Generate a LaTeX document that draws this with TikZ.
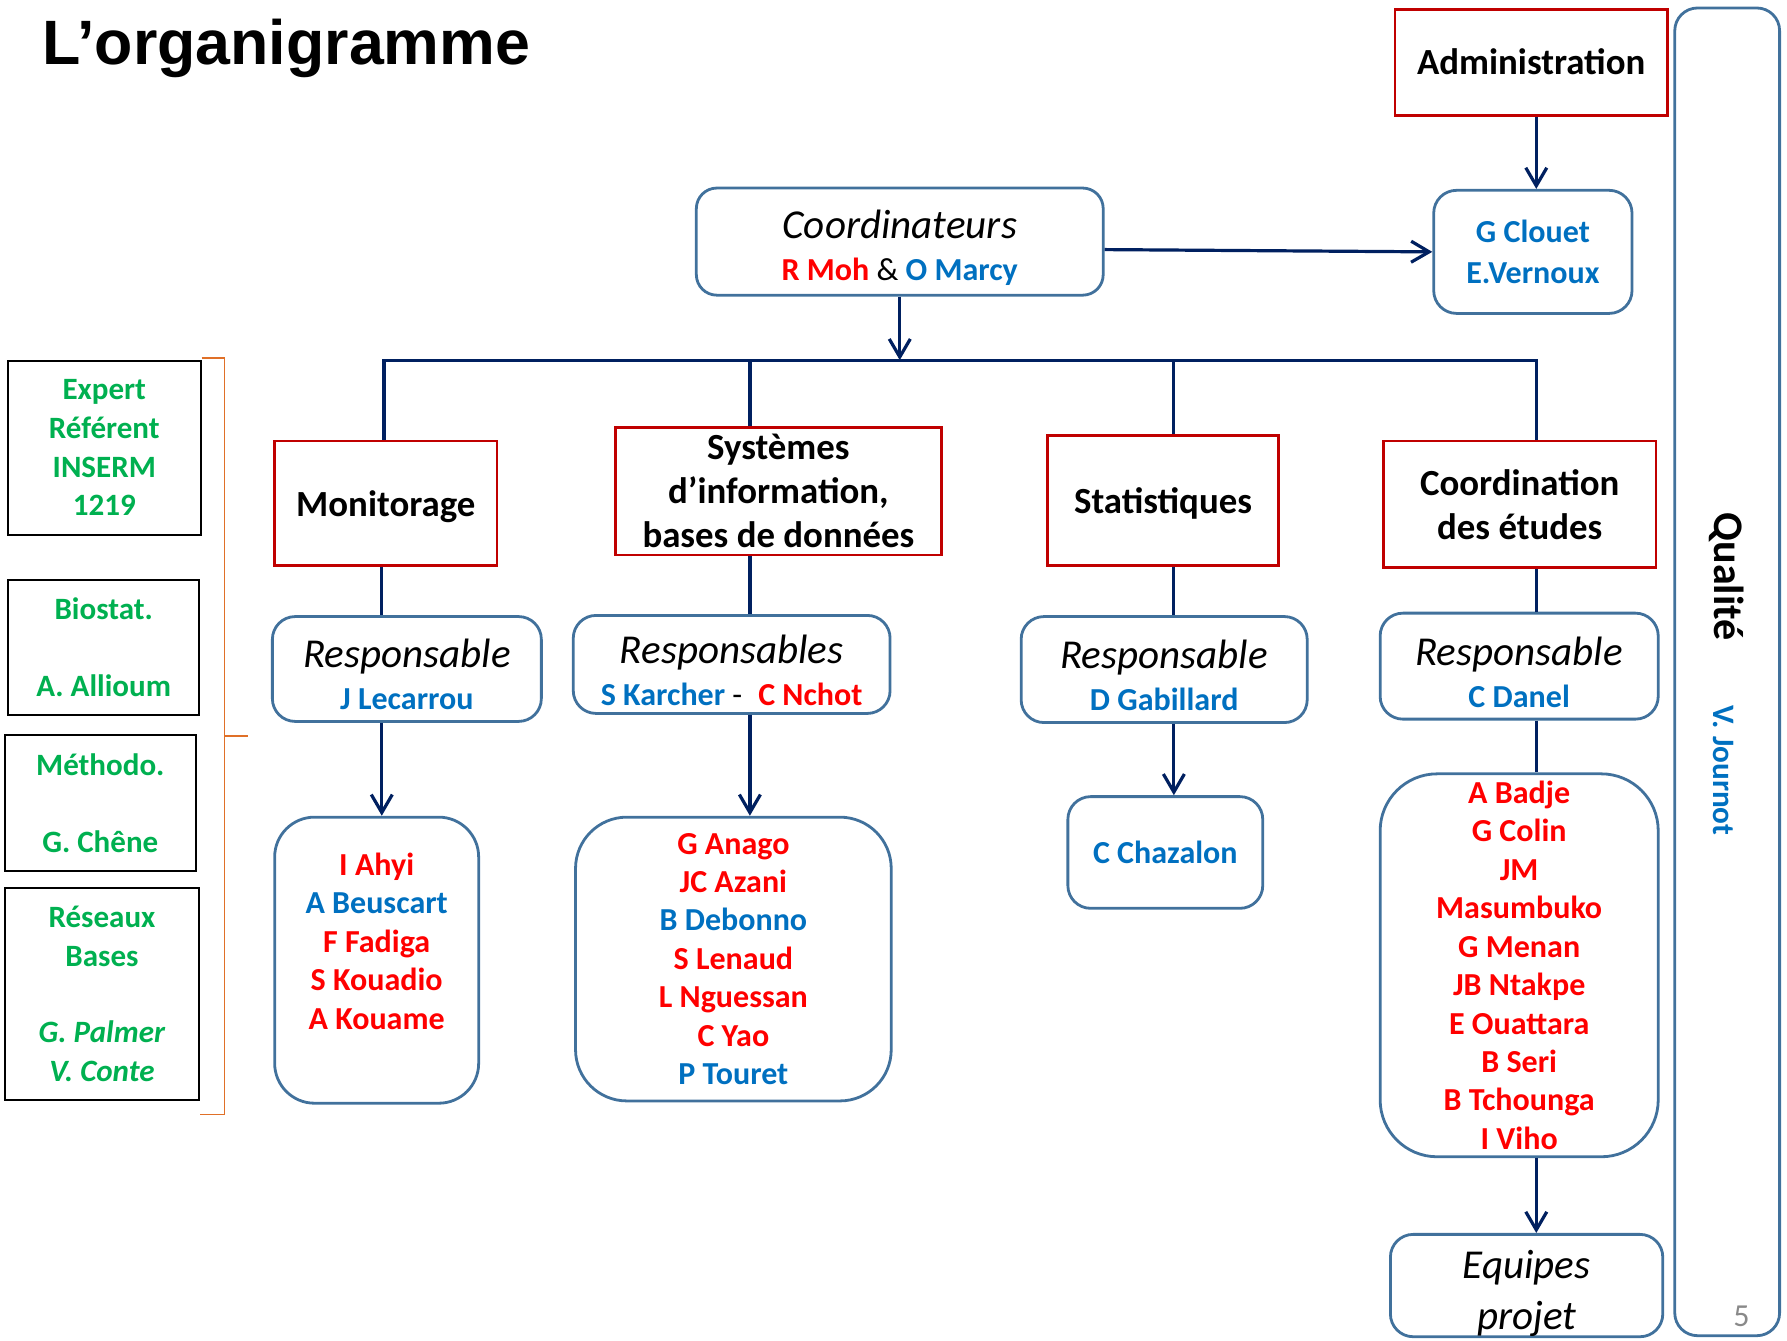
\documentclass[tikz,border=0pt]{standalone}
\usepackage{fontspec}
\setmainfont{Carlito}
\newfontfamily\titlefont{Liberation Sans}
\usetikzlibrary{arrows.meta}

\definecolor{navyline}{RGB}{0,32,96}
\definecolor{redframe}{RGB}{192,0,0}
\definecolor{blueframe}{RGB}{65,113,156}
\definecolor{nameblue}{RGB}{0,112,192}
\definecolor{namered}{RGB}{255,0,0}
\definecolor{namegreen}{RGB}{0,176,80}
\definecolor{bracketorange}{RGB}{224,112,40}
\definecolor{pagegray}{RGB}{137,137,137}

\newcommand{\nred}[1]{\textcolor{namered}{#1}}
\newcommand{\nblue}[1]{\textcolor{nameblue}{#1}}
\newcommand{\rolename}[1]{{\mdseries\itshape\fontsize{20.5}{21}\selectfont\rule{0pt}{20pt}#1}}

\begin{document}
\begin{tikzpicture}[x=0.02cm,y=-0.02cm]

\tikzset{%
  sz/.style 2 args = {minimum width=#1*0.02cm, minimum height=#2*0.02cm},
  unit/.style    = {draw=redframe, line width=1.4pt, inner sep=0pt, align=center,
                    font=\bfseries\fontsize{18.4}{22}\selectfont},
  person/.style  = {draw=blueframe, line width=1.4pt, rounded corners=0.4cm, inner sep=0pt,
                    align=center, font=\bfseries\fontsize{16}{21}\selectfont},
  team/.style    = {person, font=\bfseries\fontsize{16}{19.2}\selectfont},
  expert/.style  = {draw=black, line width=1pt, inner sep=0pt, align=center, text=namegreen,
                    font=\bfseries\fontsize{15.5}{19.3}\selectfont},
  link/.style    = {navyline, line width=1.6pt},
  arrow/.style   = {link, -{Straight Barb[length=9pt,width=10.5pt]}},
  bracket/.style = {bracketorange, line width=0.8pt},
}

\useasboundingbox (0,0) rectangle (1568,1176);

\coordinate (cmon)  at (335,0);  % Monitorage column
\coordinate (csys)  at (658,0);  % Systemes column
\coordinate (cstat) at (1030,0); % Statistiques column
\coordinate (cetu)  at (1348,0); % Coordination column
\coordinate (busL)  at (337,316);
\coordinate (busR)  at (1348,316);

% Title
\node[anchor=base west, inner sep=0pt, font=\titlefont\bfseries\fontsize{31.3}{36}\selectfont]
  (title) at (37,57) {L’organigramme};

% Administration and Qualite
\node[unit, sz={239}{93}] (admin) at (1343.5,54.5) {Administration};
\node[person, sz={92}{1165}] (qual) at (1515.5,589.5) {};
\node[rotate=-90, font=\bfseries\fontsize{21}{24}\selectfont] (qualite) at (1515,506) {Qualité};
\node[rotate=-90, text=nameblue, font=\bfseries\fontsize{15.6}{18}\selectfont]
  (journot) at (1512,676) {V. Journot};

% Coordination
\node[person, sz={357}{94}, rounded corners=0.36cm] (coord) at (789.5,212)
  {\rolename{Coordinateurs}\\ \nred{R Moh} {\mdseries\&} \nblue{O Marcy}};
\node[person, sz={174}{108}, text=nameblue, font=\bfseries\fontsize{16}{20}\selectfont]
  (clouet) at (1345,221) {G Clouet\\E.Vernoux};

% Units
\node[unit, sz={195}{109}] (mon)  at (338.5,441.5) {\rule{0pt}{16pt}Monitorage};
\node[unit, sz={286}{112}] (sys)  at (683,431)     {Systèmes\\d’information,\\bases de données};
\node[unit, sz={203}{114}] (stat) at (1020.5,439)  {\rule{0pt}{16pt}Statistiques};
\node[unit, sz={239}{111}] (etu)  at (1333.5,442.5) {Coordination\\des études};

% Responsables
\node[person, sz={236}{92}] (rmon)  at (357,587)      {\rolename{Responsable}\\ \nblue{J Lecarrou}};
\node[person, sz={278}{86}] (rsys)  at (642,583)
  {\rolename{Responsables}\\ \nblue{S Karcher} {\mdseries -}\enspace\nred{C Nchot}};
\node[person, sz={251}{93}] (rstat) at (1021.5,587.5) {\rolename{Responsable}\\ \nblue{D Gabillard}};
\node[person, sz={244}{93}] (retu)  at (1333,584.5)   {\rolename{Responsable}\\ \nblue{C Danel}};

% Teams
\node[team, sz={179}{251}, rounded corners=0.7cm, text=namered] (mmon) at (330.5,842.5)
  {I Ahyi\\ \nblue{A Beuscart}\\ F Fadiga\\ S Kouadio\\ A Kouame\\ \mbox{}};
\node[team, sz={277}{249}, rounded corners=0.9cm, text=namered] (msys) at (643.5,841.5)
  {G Anago\\ JC Azani\\ \nblue{B Debonno}\\ S Lenaud\\ L Nguessan\\ C Yao\\ \nblue{P Touret}};
\node[team, sz={171}{98}, text=nameblue] (mstat) at (1022.5,748) {C Chazalon};
\node[team, sz={244}{336}, rounded corners=1cm, text=namered] (metu) at (1333,847)
  {A Badje\\ G Colin\\ JM\\ Masumbuko\\ G Menan\\ JB Ntakpe\\ E Ouattara\\ B Seri\\ B Tchounga\\ I Viho};
\node[person, sz={239}{88}, font=\itshape\fontsize{20.5}{25.6}\selectfont] (equipes) at (1339.5,1128)
  {\rule{0pt}{22pt}Equipes\\projet};

% Experts
\node[expert, sz={169}{152}] (inserm)  at (91.5,393)  {Expert\\Référent\\INSERM\\1219};
\node[expert, sz={168}{118}] (biostat) at (91,568)    {Biostat.\\[19pt]A. Allioum};
\node[expert, sz={168}{119}] (methodo) at (88,704.5)  {Méthodo.\\[19pt]G. Chêne};
\node[expert, sz={171}{186}] (reseaux) at (89.5,872)
  {Réseaux\\Bases\\[19pt]\textit{G. Palmer}\\\textit{V. Conte}};

\coordinate (brT) at (197,314);
\coordinate (brB) at (197,978);
\coordinate (brM) at (197,646);
\draw[bracket] (brT -| inserm.east) -- (brT) -- (brB) -- (brB -| reseaux.east);
\draw[bracket] (brM) -- ++(21,0);

% Page number
\node[text=pagegray, font=\fontsize{16}{18}\selectfont] (page) at (1528,1155) {5};

% Links
\draw[arrow] (admin.south -| cetu) -- (clouet.north -| cetu);
\draw[arrow] ([yshift=-0.14cm]coord.east) -- (clouet.west);
\draw[arrow] (coord.south) -- (coord.south |- busL);
\draw[link]  (mon.north -| busL) -- (busL) -- (busR) -- (etu.north -| busR);
\draw[link]  (sys.north -| csys) -- (csys |- busL);
\draw[link]  (stat.north -| cstat) -- (cstat |- busL);

\draw[link]  (mon.south -| cmon) -- (rmon.north -| cmon);
\draw[arrow] (rmon.south -| cmon) -- (mmon.north -| cmon);
\draw[link]  (sys.south -| csys) -- (rsys.north -| csys);
\draw[arrow] (rsys.south -| csys) -- (msys.north -| csys);
\draw[link]  (stat.south -| cstat) -- (rstat.north -| cstat);
\draw[arrow] (rstat.south -| cstat) -- (mstat.north -| cstat);
\draw[link]  (etu.south -| cetu) -- (retu.north -| cetu);
\draw[link]  (retu.south -| cetu) -- (metu.north -| cetu);
\draw[arrow] (metu.south -| cetu) -- (equipes.north -| cetu);

\end{tikzpicture}
\end{document}
